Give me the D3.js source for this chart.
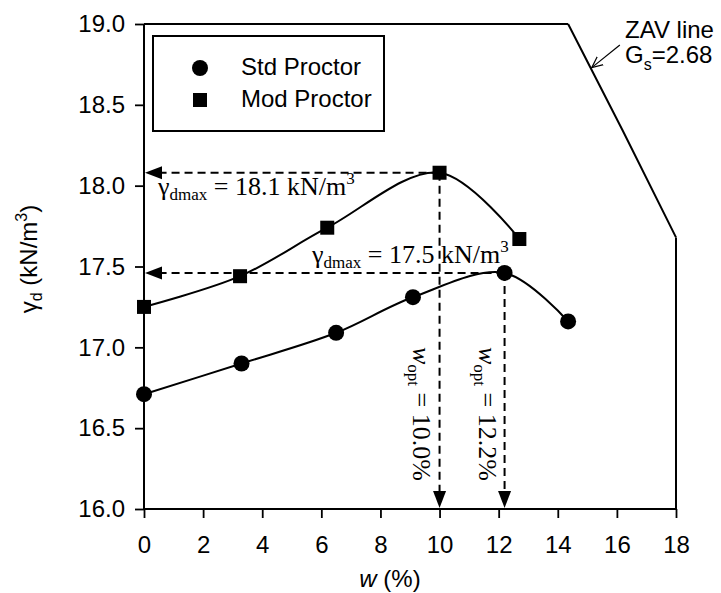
<!DOCTYPE html>
<html>
<head>
<meta charset="utf-8">
<script src="https://cdn.jsdelivr.net/npm/d3@7/dist/d3.min.js"></script>
<style>
  html, body { margin: 0; padding: 0; background: #fff; }
  svg { display: block; }
  .sans { font-family: "Liberation Sans", Arial, sans-serif; }
  .serif { font-family: "Liberation Serif", "Times New Roman", serif; }
</style>
</head>
<body>
<svg id="chart" width="721" height="593"></svg>
<script>
// Compaction test results: water content w (%) vs dry unit weight γd (kN/m³)
const stdW = [0, 3.3, 6.5, 9.1, 12.2, 14.35];
const stdG = [16.71, 16.90, 17.09, 17.31, 17.46, 17.16];
const modW = [0, 3.25, 6.2, 10.0, 12.7];
const modG = [17.25, 17.44, 17.74, 18.08, 17.67];

// Zero-air-voids line (Gs = 2.68) across the upper right of the plot
const zavW = [14.35, 16.2, 18];
const zavG = [19.0, 18.34, 17.68];

const xTicks = [0, 2, 4, 6, 8, 10, 12, 14, 16, 18];
const yTicks = [16.0, 16.5, 17.0, 17.5, 18.0, 18.5, 19.0];
const seriesNames = ["Std Proctor", "Mod Proctor"];

const svg = d3.select("#chart");
const x = d3.scaleLinear().domain([0, 18]).range([144, 676]);
const y = d3.scaleLinear().domain([16, 19]).range([509, 24]);

const SANS = 24;   // axis, legend and ZAV text
const SUB = 16;    // sub/superscripts in sans text

// ---- axes ----
const gx = svg.append("g")
  .attr("transform", `translate(0,${y(16)})`)
  .call(d3.axisBottom(x).tickValues(xTicks).tickFormat(d3.format("d")).tickSize(9).tickPadding(18));
const gy = svg.append("g")
  .attr("transform", `translate(${x(0)},0)`)
  .call(d3.axisLeft(y).tickValues(yTicks).tickFormat(d3.format(".1f")).tickSize(9).tickPadding(10));
[gx, gy].forEach(g => {
  g.select(".domain").attr("stroke", "#000").attr("stroke-width", 2);
  g.selectAll(".tick line").attr("stroke", "#000").attr("stroke-width", 1.8);
  g.selectAll(".tick text").attr("class", "sans").attr("font-size", SANS).attr("fill", "#000");
});
gx.select(".domain").attr("d", `M${x(0)},0H${x(18)}`);
gy.select(".domain").attr("d", `M0,${y(16)}V${y(19)}`);

// ---- frame: top edge up to the ZAV line, right edge below it ----
svg.append("line")
  .attr("x1", x(0)).attr("x2", x(zavW[0]))
  .attr("y1", y(19)).attr("y2", y(19))
  .attr("stroke", "#000").attr("stroke-width", 2);
svg.append("line")
  .attr("x1", x(18)).attr("x2", x(18))
  .attr("y1", y(zavG[zavG.length - 1])).attr("y2", y(16))
  .attr("stroke", "#000").attr("stroke-width", 2);
svg.append("path")
  .attr("d", d3.line().x(d => x(d[0])).y(d => y(d[1])).curve(d3.curveMonotoneX)(zavW.map((w, i) => [w, zavG[i]])))
  .attr("fill", "none").attr("stroke", "#000").attr("stroke-width", 2);

// ---- axis titles ----
const yTitle = svg.append("text")
  .attr("class", "sans").attr("font-size", SANS)
  .attr("text-anchor", "middle")
  .attr("transform", `translate(37,259) rotate(-90)`);
yTitle.append("tspan").text("γ");
yTitle.append("tspan").attr("font-size", SUB).attr("dy", 5).text("d");
yTitle.append("tspan").attr("dy", -5).text(" (kN/m");
yTitle.append("tspan").attr("font-size", SUB).attr("dy", -10).text("3");
yTitle.append("tspan").attr("dy", 10).text(")");

const xTitle = svg.append("text")
  .attr("class", "sans").attr("font-size", SANS)
  .attr("text-anchor", "middle")
  .attr("x", 390).attr("y", 587);
xTitle.append("tspan").attr("font-style", "italic").text("w");
xTitle.append("tspan").text(" (%)");

// ---- fitted curves ----
const curve = d3.line().x(d => x(d[0])).y(d => y(d[1])).curve(d3.curveCatmullRom.alpha(0.5));
const stdPts = stdW.map((w, i) => [w, stdG[i]]);
const modPts = modW.map((w, i) => [w, modG[i]]);
[stdPts, modPts].forEach(pts => {
  svg.append("path").attr("d", curve(pts))
    .attr("fill", "none").attr("stroke", "#000").attr("stroke-width", 2);
});

// ---- peak (optimum) annotations ----
const peakOf = pts => pts.reduce((a, b) => (b[1] > a[1] ? b : a));
const modPeak = peakOf(modPts);
const stdPeak = peakOf(stdPts);

const dash = "8,5";
function arrowLeft(px, py) {
  svg.append("line")
    .attr("x1", x(px)).attr("x2", x(0) + 14)
    .attr("y1", y(py)).attr("y2", y(py))
    .attr("stroke", "#000").attr("stroke-width", 2).attr("stroke-dasharray", dash);
  const tx = x(0) + 1, ty = y(py);
  svg.append("path")
    .attr("d", `M${tx},${ty}L${tx + 17},${ty - 6.5}L${tx + 17},${ty + 6.5}Z`)
    .attr("fill", "#000");
}
function arrowDown(px, py) {
  svg.append("line")
    .attr("x1", x(px)).attr("x2", x(px))
    .attr("y1", y(py)).attr("y2", y(16) - 14)
    .attr("stroke", "#000").attr("stroke-width", 2).attr("stroke-dasharray", dash);
  const tx = x(px), ty = y(16) - 1;
  svg.append("path")
    .attr("d", `M${tx},${ty}L${tx - 6.5},${ty - 17}L${tx + 6.5},${ty - 17}Z`)
    .attr("fill", "#000");
}
arrowLeft(modPeak[0], modPeak[1]);
arrowDown(modPeak[0], modPeak[1]);
arrowLeft(stdPeak[0], stdPeak[1]);
arrowDown(stdPeak[0], stdPeak[1]);

function gammaLabel(px, py, value) {
  const t = svg.append("text").attr("class", "serif").attr("font-size", 26)
    .attr("x", px).attr("y", py);
  t.append("tspan").text("γ");
  t.append("tspan").attr("font-size", 17).attr("dy", 5).text("dmax");
  t.append("tspan").attr("dy", -5).text(` = ${value.toFixed(1)} kN/m`);
  t.append("tspan").attr("font-size", 17).attr("dy", -11).text("3");
}
gammaLabel(x(0) + 14, y(modPeak[1]) + 22, modPeak[1]);
gammaLabel(312, y(stdPeak[1]) - 10, stdPeak[1]);

function wLabel(px, value) {
  const t = svg.append("text").attr("class", "serif").attr("font-size", 26)
    .attr("transform", `translate(${px},347) rotate(90)`);
  t.append("tspan").attr("font-style", "italic").text("w");
  t.append("tspan").attr("font-size", 17).attr("dy", 5).text("opt");
  t.append("tspan").attr("dy", -5).text(` = ${value.toFixed(1)}%`);
}
wLabel(x(modPeak[0]) - 27, modPeak[0]);
wLabel(x(stdPeak[0]) - 26, stdPeak[0]);

// ---- data markers ----
svg.append("g").selectAll("circle").data(stdPts).join("circle")
  .attr("cx", d => x(d[0])).attr("cy", d => y(d[1])).attr("r", 8).attr("fill", "#000");
svg.append("g").selectAll("rect").data(modPts).join("rect")
  .attr("x", d => x(d[0]) - 7).attr("y", d => y(d[1]) - 7)
  .attr("width", 14).attr("height", 14).attr("fill", "#000");

// ---- ZAV annotation ----
svg.append("defs").append("marker")
  .attr("id", "open-head").attr("viewBox", "0 0 12 12")
  .attr("refX", 11).attr("refY", 6).attr("markerWidth", 12).attr("markerHeight", 12)
  .attr("markerUnits", "userSpaceOnUse").attr("orient", "auto")
  .append("path").attr("d", "M0,1L11,6L0,11").attr("fill", "none").attr("stroke", "#000").attr("stroke-width", 1.2);
svg.append("line")
  .attr("x1", x(16.1)).attr("y1", y(18.87))
  .attr("x2", x(15.15)).attr("y2", y(18.73))
  .attr("stroke", "#000").attr("stroke-width", 1.2).attr("marker-end", "url(#open-head)");
svg.append("text").attr("class", "sans").attr("font-size", SANS)
  .attr("x", 625).attr("y", 38).text("ZAV line");
const gs = svg.append("text").attr("class", "sans").attr("font-size", SANS)
  .attr("x", 625).attr("y", 63);
gs.append("tspan").text("G");
gs.append("tspan").attr("font-size", SUB).attr("dy", 7).text("s");
gs.append("tspan").attr("dy", -7).text("=2.68");

// ---- legend ----
const lg = svg.append("g");
lg.append("rect").attr("x", 153).attr("y", 36).attr("width", 231).attr("height", 95)
  .attr("fill", "#fff").attr("stroke", "#000").attr("stroke-width", 2);
lg.append("circle").attr("cx", 200).attr("cy", 68).attr("r", 8).attr("fill", "#000");
lg.append("rect").attr("x", 193).attr("y", 93).attr("width", 14).attr("height", 14).attr("fill", "#000");
seriesNames.forEach((name, i) => {
  lg.append("text").attr("class", "sans").attr("font-size", SANS)
    .attr("x", 241).attr("y", 75 + i * 32).text(name);
});
</script>
</body>
</html>
